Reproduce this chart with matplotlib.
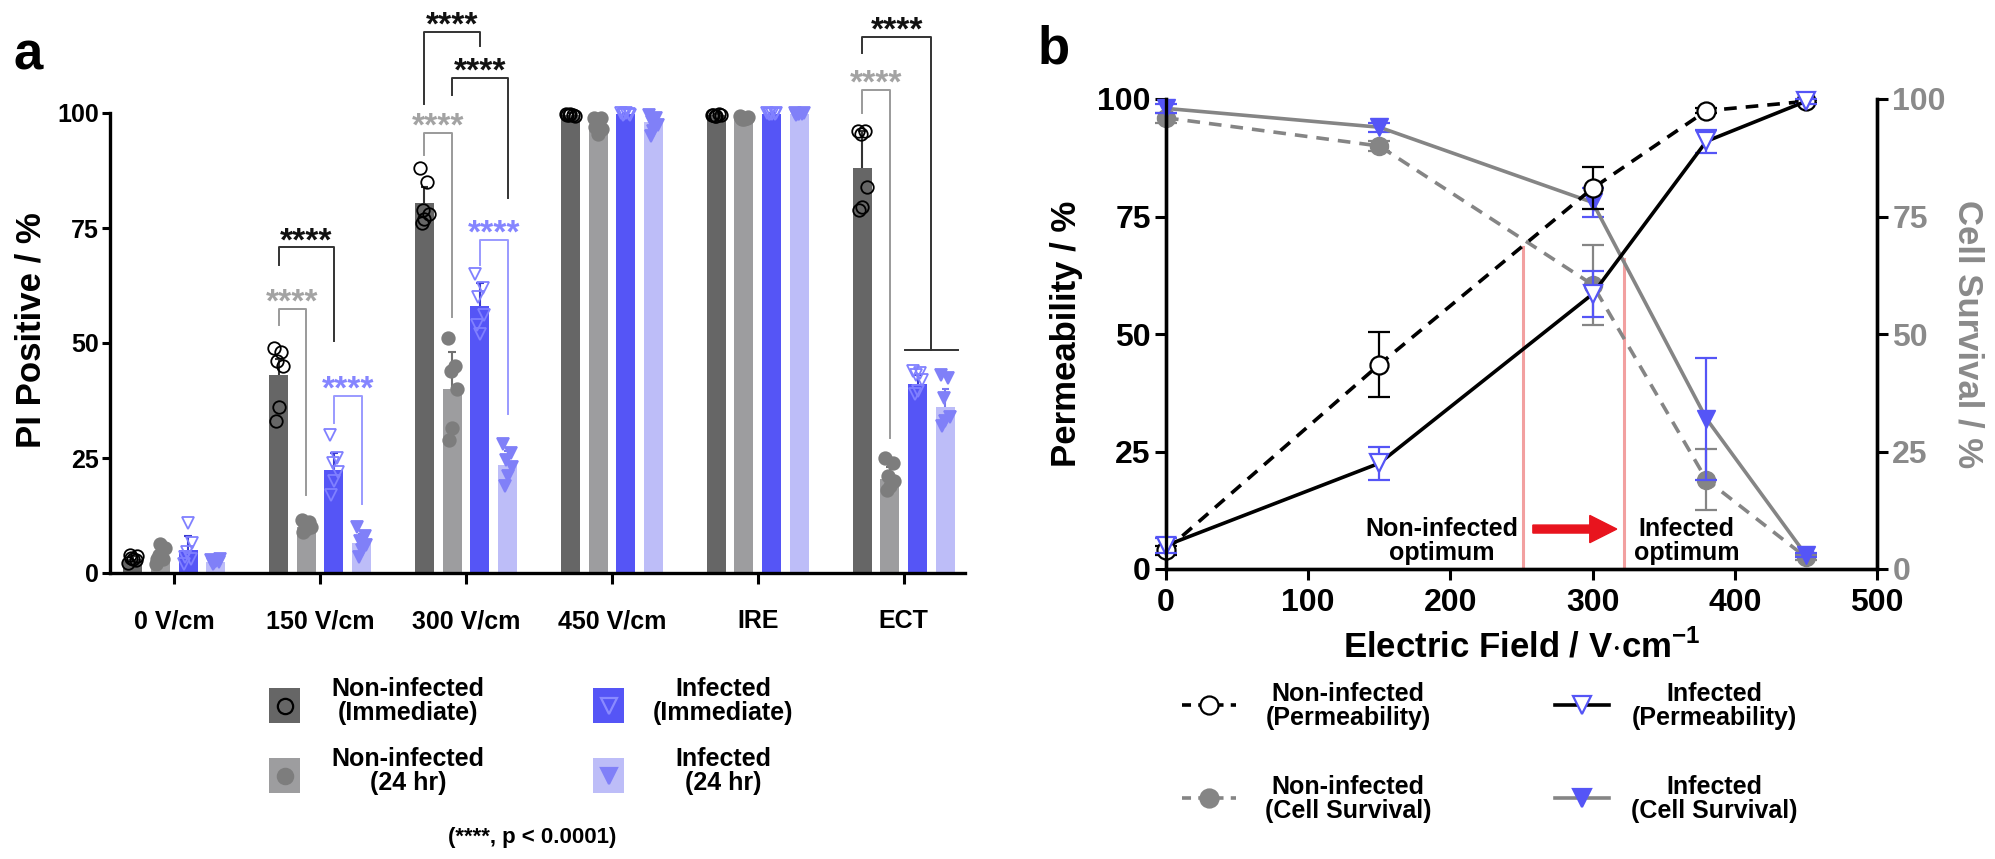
"""Two-panel figure: PI uptake bars (a) and permeability / survival curves (b)."""
import matplotlib
matplotlib.use('Agg')
import matplotlib.pyplot as plt
from matplotlib.patches import Rectangle, FancyArrow
from matplotlib.lines import Line2D
import numpy as np

plt.rcParams['font.family'] = ['Liberation Sans', 'DejaVu Sans']
plt.rcParams['font.weight'] = 'bold'
plt.rcParams['axes.labelweight'] = 'bold'
plt.rcParams['mathtext.fontset'] = 'custom'
plt.rcParams['mathtext.rm'] = 'Liberation Sans:bold'
plt.rcParams['mathtext.bf'] = 'Liberation Sans:bold'

# ---- panel a data --------------------------------------------------
groups = ['0 V/cm', '150 V/cm', '300 V/cm', '450 V/cm', 'IRE', 'ECT']

ni_imm_mean = [3.0, 43.0, 80.5, 99.6, 99.5, 88.0]
ni_imm_err = [0.8, 3.5, 3.5, 0.3, 0.3, 8.0]
ni_imm_pts = [[2.2, 2.8, 3.2, 3.6, 3.0, 4.0], [49, 48, 46, 45, 36, 33],
              [88, 85, 79, 78, 77, 76], [99.8, 99.5, 99.6, 99.4, 99.7, 99.6],
              [99.5, 99.7, 99.4, 99.6, 99.3, 99.5], [96, 96, 95.5, 84, 79.5, 79]]

ni_24_mean = [3.5, 10.0, 40.0, 97.5, 99.0, 20.5]
ni_24_err = [1.5, 0.8, 8.0, 1.6, 0.5, 2.5]
ni_24_pts = [[2.0, 3.0, 4.0, 5.5, 6.2, 3.0], [11.5, 11.0, 10.5, 10.0, 9.5, 9.0],
             [51, 45, 44, 40, 31.5, 29], [99, 99, 98.5, 96.5, 95.5, 97],
             [99.3, 99, 98.8, 99.2, 98.6, 99.0], [25, 24, 21, 20, 19, 18]]

inf_imm_mean = [5.0, 22.5, 58.0, 99.7, 99.8, 41.0]
inf_imm_err = [3.0, 3.5, 5.0, 0.3, 0.2, 2.0]
inf_imm_pts = [[2, 3, 4.5, 6.5, 10.8, 3.5], [30, 25, 24, 22, 20, 17],
               [65, 62, 60, 56, 52, 54], [99.9, 99.7, 99.8, 99.6, 99.9, 99.5],
               [99.9, 99.8, 99.7, 99.9, 99.8, 99.7], [44, 43.5, 43, 42, 39.5, 39]]

inf_24_mean = [2.5, 6.5, 23.5, 98.0, 99.8, 36.0]
inf_24_err = [0.5, 2.0, 3.0, 1.5, 0.2, 4.0]
inf_24_pts = [[2.8, 2.5, 2.2, 3.0, 2.6, 2.0], [10, 8, 7, 6, 5, 3.5],
              [28, 26, 24.5, 23, 21, 19], [99.5, 99, 98, 97.5, 96, 95],
              [99.9, 99.8, 99.7, 99.9, 99.8, 99.6], [43, 42.5, 38, 34, 33, 32]]

# significance brackets: group, left bar, right bar, top, left end, right end, colour key
brackets = [(1, 0, 1, 57.5, 54.0, 17.0, 'gray'),
            (1, 0, 2, 70.8, 67.0, 50.5, 'black'),
            (1, 2, 3, 38.5, 32.7, 15.0, 'blue'),
            (2, 0, 1, 95.6, 90.8, 55.6, 'gray'),
            (2, 0, 2, 117.6, 102.0, 114.5, 'black'),
            (2, 1, 3, 107.6, 104.0, 81.5, 'black'),
            (2, 2, 3, 72.5, 67.0, 34.6, 'blue'),
            (5, 0, 1, 105.0, 100.0, 29.4, 'gray'),
            (5, 0, 2.5, 116.5, 113.0, 48.5, 'black')]

# ---- panel b data --------------------------------------------------
field = [0, 150, 300, 380, 450]
ni_perm = [4.0, 43.5, 81.0, 97.5, 99.5]
ni_perm_err = [1.0, 7.0, 4.5, 0.5, 0.3]
inf_perm = [5.0, 22.5, 58.5, 91.0, 99.5]
inf_perm_err = [1.5, 3.5, 4.8, 2.5, 0.5]
ni_surv = [96.0, 90.0, 60.5, 19.0, 2.5]
ni_surv_err = [1.0, 1.0, 8.5, 6.5, 0.5]
inf_surv = [98.0, 94.0, 78.0, 32.0, 3.0]
inf_surv_err = [1.0, 1.0, 3.0, 13.0, 0.5]
opt_field = [251, 322]
opt_level = [68.5, 66.0]

# ---- style ---------------------------------------------------------
W, H = 1995, 859
DARK, MID, BLUE, LIGHT = '#666666', '#9d9d9f', '#5555f6', '#bdbdf8'
PTGRAY, PTBLUE = '#7d7d7d', '#8080f8'
BR_COL = {'black': '#333333', 'gray': '#9a9a9a', 'blue': '#9a9aff'}
ST_COL = {'black': '#111111', 'gray': '#a3a3a3', 'blue': '#8585ff'}


def fx(px):
    return px / W


def fy(py):
    return 1 - py / H


fig = plt.figure(figsize=(W / 100, H / 100), dpi=100)
fig.patch.set_facecolor('white')

# ================= panel a =================
axa = fig.add_axes([fx(110), fy(573), (965 - 110) / W, 573 / H])
axa.set_xlim(-0.44, 5.42)
axa.set_ylim(0, 573 / 4.6)

series = [(ni_imm_mean, ni_imm_err, ni_imm_pts, DARK, 'o', 'none', 'black', '#333333'),
          (ni_24_mean, ni_24_err, ni_24_pts, MID, 'o', PTGRAY, PTGRAY, '#707070'),
          (inf_imm_mean, inf_imm_err, inf_imm_pts, BLUE, 'v', 'none', '#8080ff', '#3a3ad0'),
          (inf_24_mean, inf_24_err, inf_24_pts, LIGHT, 'v', PTBLUE, PTBLUE, '#7a7af0')]
step, bw = 0.19, 0.13
gx = np.arange(len(groups))
jit = np.array([-0.03, 0.02, -0.01, 0.03, 0.0, -0.02])
for k, (mean, err, pts, col, mk, mfc, mec, ecol) in enumerate(series):
    xs = gx + (k - 1.5) * step
    axa.bar(xs, mean, width=bw, color=col, zorder=2)
    axa.vlines(xs, mean, np.array(mean) + np.array(err), color=ecol, lw=1.5, zorder=3)
    axa.hlines(np.array(mean) + np.array(err), xs - 0.025, xs + 0.025, color=ecol, lw=1.5, zorder=3)
    for g, p in enumerate(pts):
        axa.plot(xs[g] + jit[:len(p)], p, ls='none', marker=mk, ms=9,
                 mfc=mfc, mec=mec, mew=1.3, zorder=4, clip_on=False)

for g, b0, b1, top, y0, y1, key in brackets:
    x0 = g + (b0 - 1.5) * step
    x1 = g + (b1 - 1.5) * step
    axa.plot([x0, x0, x1, x1], [y0, top, top, y1], color=BR_COL[key], lw=1.4,
             clip_on=False, zorder=5)
    axa.text((x0 + x1) / 2, top - 0.6, '****', ha='center', va='baseline',
             fontsize=24, color=ST_COL[key], clip_on=False)
    if b1 % 1:
        axa.plot([x1 - step / 2 - bw / 2 - 0.02, x1 + step / 2 + bw / 2 + 0.02], [y1, y1],
                 color=BR_COL[key], lw=1.4, zorder=5)

for s in ['top', 'right']:
    axa.spines[s].set_visible(False)
axa.spines['left'].set_bounds(0, 100)
axa.spines['left'].set_linewidth(2.4)
axa.spines['bottom'].set_linewidth(2.4)
axa.set_yticks([0, 25, 50, 75, 100])
axa.set_xticks(gx)
axa.set_xticklabels(groups)
axa.tick_params(axis='y', labelsize=18, width=2.2, length=6, pad=2)
axa.tick_params(axis='x', labelsize=18, width=2.2, length=8, pad=18)
axa.set_ylabel('PI Positive / %', fontsize=25)
axa.yaxis.set_label_coords((48 - 110) / 855, (573 - 330) / 573)

fig.text(fx(28), fy(55), 'a', fontsize=38, ha='center', va='center')

# legend a
leg_a = [(269, 688, 408, DARK, 'o', 'none', 'black', 'Non-infected\n(Immediate)'),
         (593, 688, 723, BLUE, 'v', 'none', '#8a8aff', 'Infected\n(Immediate)'),
         (269, 758, 408, MID, 'o', PTGRAY, PTGRAY, 'Non-infected\n(24 hr)'),
         (593, 758, 723, LIGHT, 'v', PTBLUE, PTBLUE, 'Infected\n(24 hr)')]
for px, py, tx, col, mk, mfc, mec, lab in leg_a:
    fig.add_artist(Rectangle((fx(px), fy(py + 35)), 31 / W, 35 / H,
                             transform=fig.transFigure, fc=col, ec='none'))
    fig.add_artist(Line2D([fx(px + 15.5)], [fy(py + 17.5)], marker=mk, ms=11,
                          mfc=mfc, mec=mec, mew=1.6, transform=fig.transFigure))
    fig.text(fx(tx), fy(py + 13), lab, ha='center', va='center', fontsize=18,
             linespacing=1.05)
fig.text(fx(532), fy(837), '(****, p < 0.0001)', ha='center', va='center', fontsize=16)

# ================= panel b =================
axb = fig.add_axes([fx(1166), fy(569), (1877 - 1166) / W, (569 - 99) / H])
axb.set_xlim(0, 500)
axb.set_ylim(0, 100)
axr = axb.twinx()
axr.set_ylim(0, 100)

for xo, yo in zip(opt_field, opt_level):
    axb.plot([xo, xo], [0, yo], color='#f2a0a0', lw=2.2, zorder=1)

GRAYL = '#858585'
axb.errorbar(field, ni_surv, yerr=ni_surv_err, color=GRAYL, lw=2.6, ls=(0, (3.5, 2.5)),
             marker='o', ms=13, mfc=GRAYL, mec=GRAYL, ecolor=GRAYL, elinewidth=1.6,
             capsize=8, capthick=1.6, zorder=2, clip_on=False)
axb.errorbar(field, inf_surv, yerr=inf_surv_err, color=GRAYL, lw=2.6,
             marker='v', ms=13, mfc=BLUE, mec=BLUE, ecolor=BLUE, elinewidth=1.6,
             capsize=8, capthick=1.6, zorder=3, clip_on=False)
axb.errorbar(field, ni_perm, yerr=ni_perm_err, color='black', lw=2.6, ls=(0, (3.5, 2.5)),
             marker='o', ms=13, mfc='white', mec='black', mew=1.6, ecolor='black',
             elinewidth=1.6, capsize=8, capthick=1.6, zorder=4, clip_on=False)
axb.errorbar(field, inf_perm, yerr=inf_perm_err, color='black', lw=2.6,
             marker='v', ms=13, mfc='white', mec=BLUE, mew=1.6, ecolor=BLUE,
             elinewidth=1.6, capsize=8, capthick=1.6, zorder=5, clip_on=False)

axb.add_patch(FancyArrow(258, 8.5, 40, 0, width=1.7, head_width=5.8, head_length=19,
                         length_includes_head=False, color='#e8141e', zorder=6))
axb.text(194, 6.0, 'Non-infected\noptimum', ha='center', va='center', fontsize=18,
         linespacing=1.0, zorder=7)
axb.text(366, 6.0, 'Infected\noptimum', ha='center', va='center', fontsize=18,
         linespacing=1.0, zorder=7)

for a in (axb, axr):
    a.spines['top'].set_visible(False)
    for s in ['left', 'right', 'bottom']:
        a.spines[s].set_linewidth(2.4)
axb.set_xticks([0, 100, 200, 300, 400, 500])
axb.set_yticks([0, 25, 50, 75, 100])
axr.set_yticks([0, 25, 50, 75, 100])
axb.tick_params(axis='both', labelsize=23, width=2.2, length=8, pad=3)
axb.tick_params(axis='x', pad=6)
axr.tick_params(axis='y', labelsize=23, width=2.2, length=8, pad=3, labelcolor='#8a8a8a')
axb.set_xlabel('Electric Field / V$\\cdot$cm$^{-1}$', fontsize=25, labelpad=8)
axb.set_ylabel('Permeability / %', fontsize=25, labelpad=10)
axr.set_ylabel('Cell Survival / %', fontsize=25, color='#8a8a8a', rotation=270, labelpad=28)

fig.text(fx(1054), fy(50), 'b', fontsize=38, ha='center', va='center')

# legend b
leg_b = [(1182, 705, 1348, 'black', (0, (2.5, 2.0)), 'o', 'white', 'black',
          'Non-infected\n(Permeability)'),
         (1555, 705, 1714, 'black', '-', 'v', 'white', BLUE, 'Infected\n(Permeability)'),
         (1182, 798, 1348, GRAYL, (0, (2.5, 2.0)), 'o', GRAYL, GRAYL,
          'Non-infected\n(Cell Survival)'),
         (1555, 798, 1714, GRAYL, '-', 'v', BLUE, BLUE, 'Infected\n(Cell Survival)')]
for px, py, tx, lc, ls, mk, mfc, mec, lab in leg_b:
    fig.add_artist(Line2D([fx(px), fx(px + 54)], [fy(py), fy(py)], color=lc, lw=2.6, ls=ls,
                          transform=fig.transFigure))
    fig.add_artist(Line2D([fx(px + 27)], [fy(py)], marker=mk, ms=13, mfc=mfc, mec=mec,
                          mew=1.6, transform=fig.transFigure))
    fig.text(fx(tx), fy(py + 1), lab, ha='center', va='center', fontsize=18, linespacing=1.05)

fig.savefig('out.png', dpi=100, facecolor='white')
